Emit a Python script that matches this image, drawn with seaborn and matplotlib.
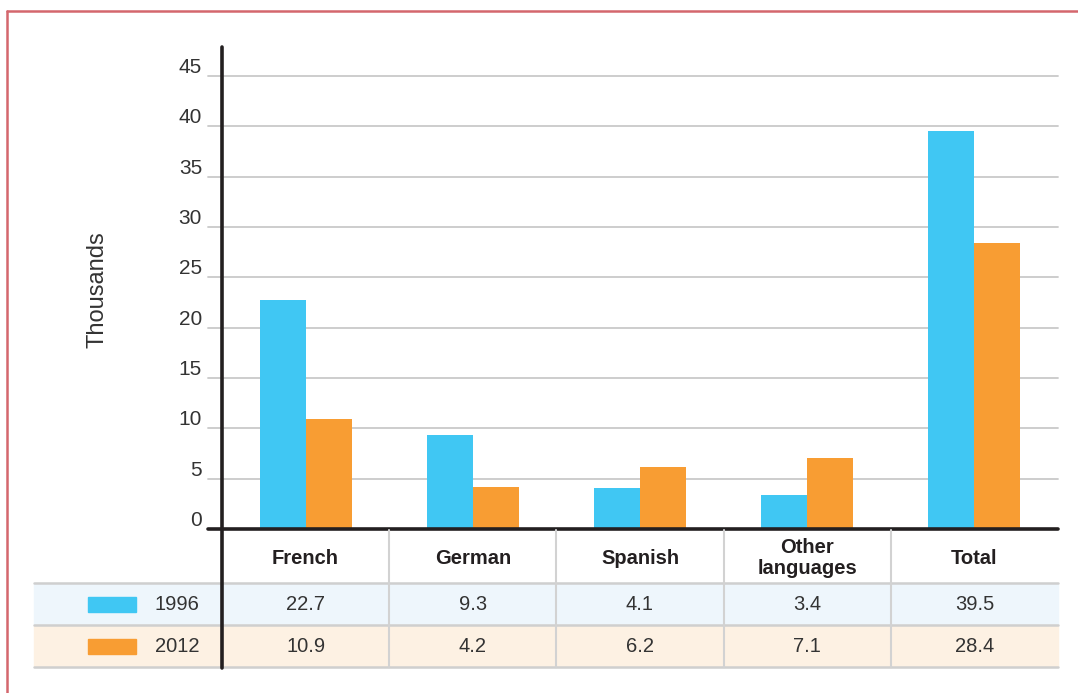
import matplotlib
matplotlib.use("Agg")
import matplotlib.pyplot as plt
import matplotlib.transforms as mtransforms
from matplotlib.lines import Line2D
from matplotlib.patches import Rectangle
import seaborn as sns
import pandas as pd

# ---- data ----
categories = ["French", "German", "Spanish", "Other\nlanguages", "Total"]
years = ["1996", "2012"]
values_1996 = [22.7, 9.3, 4.1, 3.4, 39.5]
values_2012 = [10.9, 4.2, 6.2, 7.1, 28.4]
yticks = [0, 5, 10, 15, 20, 25, 30, 35, 40, 45]
ylabel = "Thousands"

# ---- style ----
BLUE = "#40C7F3"
ORANGE = "#F89D33"
DARK = "#231F20"
TEXT = "#333333"
GRID = "#C9C9C9"
ROW_BLUE = "#EEF6FC"
ROW_ORANGE = "#FDF1E3"
BORDER = "#D4676D"

sns.set_theme(style="white")
plt.rcParams["font.family"] = ["Liberation Sans", "DejaVu Sans"]

W, H = 1078, 693
fig = plt.figure(figsize=(W / 100, H / 100), dpi=100)

def fx(px):
    return px / W

def fy(py):
    return 1 - py / H

ax_left, ax_right, ax_top, ax_bottom = 222, 1058, 47, 529
ax = fig.add_axes([fx(ax_left), fy(ax_bottom), fx(ax_right - ax_left), fy(ax_top) - fy(ax_bottom)])

df = pd.DataFrame({
    "category": categories * 2,
    "year": [years[0]] * len(categories) + [years[1]] * len(categories),
    "value": values_1996 + values_2012,
})
sns.barplot(data=df, x="category", y="value", hue="year", order=categories,
            hue_order=years, palette=[BLUE, ORANGE], width=0.55, ax=ax,
            legend=False, saturation=1, linewidth=0, zorder=3)

ymax = (ax_bottom - ax_top) / ((ax_bottom - 76) / 45.0)
ax.set_ylim(0, ymax)
ax.set_xlim(-0.5, len(categories) - 0.5)
for s in ax.spines.values():
    s.set_visible(False)
ax.set_xticks([])
ax.set_yticks([])
ax.set_xlabel("")
ax.set_ylabel("")
ax.patch.set_alpha(0)

ext = -14 / (ax_right - ax_left)
ytrans = mtransforms.blended_transform_factory(ax.transAxes, ax.transData)
lab_trans = mtransforms.offset_copy(ytrans, fig=fig, x=-20, y=3, units="dots")
for v in yticks:
    if v == 0:
        ax.axhline(0, xmin=ext, xmax=1, color=DARK, lw=2.6, clip_on=False, zorder=5)
    else:
        ax.axhline(v, xmin=ext, xmax=1, color=GRID, lw=1.3, clip_on=False, zorder=1)
    ax.text(0, v, str(v), transform=lab_trans, ha="right", va="baseline",
            fontsize=15, color=TEXT)

# y label
fig.text(fx(98), fy(290), ylabel, rotation=90, ha="center", va="center",
         fontsize=17, color=TEXT)

# ---- data table ----
row_top, row1, row2, row_bot = 530, 583, 625, 667
colx = mtransforms.blended_transform_factory(ax.transData, fig.transFigure)

fig.patches.append(Rectangle((fx(34), fy(row2)), fx(ax_right - 34), fy(row1) - fy(row2),
                             transform=fig.transFigure, color=ROW_BLUE, zorder=0))
fig.patches.append(Rectangle((fx(34), fy(row_bot)), fx(ax_right - 34), fy(row2) - fy(row_bot),
                             transform=fig.transFigure, color=ROW_ORANGE, zorder=0))
for yy in (row1, row2, row_bot):
    fig.add_artist(Line2D([fx(34), fx(ax_right)], [fy(yy), fy(yy)], transform=fig.transFigure,
                          color="#CFCFCF", lw=1.8, zorder=1))
for i in range(len(categories) - 1):
    fig.add_artist(Line2D([i + 0.5, i + 0.5], [fy(row_top), fy(row_bot)], transform=colx,
                          color="#D2D2D2", lw=1.5, zorder=1))

hdr_y = fy((row_top + row1) / 2 + 1.5)
r1_y = fy((row1 + row2) / 2)
r2_y = fy((row2 + row_bot) / 2)
for i, c in enumerate(categories):
    fig.text(i, hdr_y, c, transform=colx, ha="center", va="center", fontsize=14.5,
             fontweight="bold", color=DARK, linespacing=1.1)
    fig.text(i, r1_y, f"{values_1996[i]:.1f}", transform=colx, ha="center", va="center",
             fontsize=14.5, color=TEXT)
    fig.text(i, r2_y, f"{values_2012[i]:.1f}", transform=colx, ha="center", va="center",
             fontsize=14.5, color=TEXT)

# legend swatches in the table
for yc, col, lab in ((r1_y, BLUE, years[0]), (r2_y, ORANGE, years[1])):
    fig.patches.append(Rectangle((fx(88), yc - 7.5 / H), fx(48), 15 / H,
                                 transform=fig.transFigure, color=col, zorder=2))
    fig.text(fx(199), yc, lab, ha="right", va="center", fontsize=14.5, color=TEXT)

# vertical axis line
fig.add_artist(Line2D([fx(ax_left), fx(ax_left)], [fy(ax_top), fy(row_bot + 1)],
                      transform=fig.transFigure, color=DARK, lw=2.6, zorder=6))

# frame (top and left)
fig.add_artist(Line2D([fx(7), fx(W)], [fy(10.5), fy(10.5)], transform=fig.transFigure,
                      color=BORDER, lw=1.8))
fig.add_artist(Line2D([fx(7), fx(7)], [fy(10.5), 0], transform=fig.transFigure,
                      color=BORDER, lw=1.8))

fig.savefig("out.png", dpi=100)
